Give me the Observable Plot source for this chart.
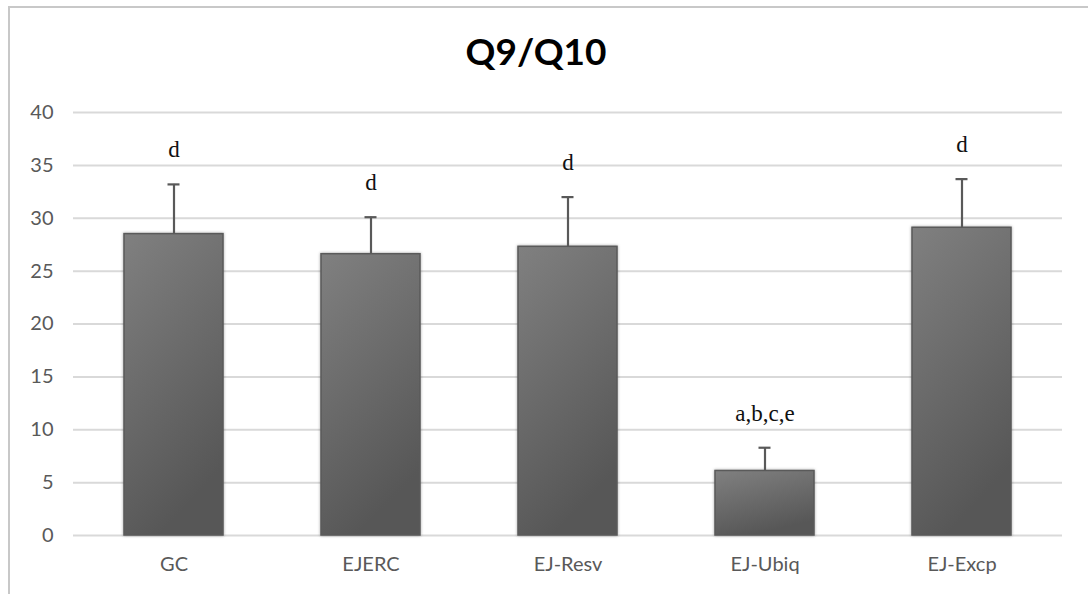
<!DOCTYPE html>
<html>
<head>
<meta charset="utf-8">
<script src="https://cdn.jsdelivr.net/npm/d3@7"></script>
<script src="https://cdn.jsdelivr.net/npm/@observablehq/plot@0.6"></script>
<style>
  html, body { margin: 0; padding: 0; background: #fff; overflow: hidden; }
  #wrap { position: relative; width: 1088px; height: 594px; overflow: hidden; }
  #frame { position: absolute; left: 8px; top: 6px; width: 1200px; height: 700px; border: 2px solid #c8c8c8; box-sizing: border-box; }
  #title { position: absolute; left: 0; width: 1072px; top: 28px; text-align: center; font: bold 37px Lato, "Open Sans", sans-serif; color: #000; }
  #chart { position: absolute; left: 0; top: 0; }
  #chart g[aria-label="bar"] rect { filter: drop-shadow(0 0 1.5px rgba(0,0,0,0.35)); }
  #chart g[aria-label="x-axis tick label"], #chart g[aria-label="y-axis tick label"] { font-size: 20px; fill: #595959; }
</style>
</head>
<body>
<div id="wrap">
  <div id="frame"></div>
  <div id="chart"></div>
  <div id="title">Q9/Q10</div>
</div>
<script>
const categories = ["GC", "EJERC", "EJ-Resv", "EJ-Ubiq", "EJ-Excp"];
const means = [28.5, 26.6, 27.3, 6.1, 29.1];
const sds = [4.7, 3.5, 4.7, 2.2, 4.6];
const letters = ["d", "d", "d", "a,b,c,e", "d"];
const yTicks = [0, 5, 10, 15, 20, 25, 30, 35, 40];

const data = categories.map((c, i) => ({cat: c, mean: means[i], top: means[i] + sds[i], letter: letters[i]}));

const chart = Plot.plot({
  width: 1088,
  height: 594,
  marginLeft: 73,
  marginRight: 26,
  marginTop: 112,
  marginBottom: 59,
  style: {background: "transparent", fontFamily: "Lato, 'Open Sans', sans-serif", color: "#595959", overflow: "visible"},
  x: {domain: categories, paddingInner: 0.5, paddingOuter: 0.25, label: null},
  y: {domain: [0, 40], label: null},
  marks: [
    Plot.gridY(yTicks, {stroke: "#d9d9d9", strokeOpacity: 1, strokeWidth: 2}),
    Plot.axisY(yTicks, {tickSize: 0, tickPadding: 20, fontSize: 20, fill: "#595959", label: null}),
    Plot.axisX({tickSize: 0, tickPadding: 21, fontSize: 20, fill: "#595959", label: null}),
    Plot.barY(data, {x: "cat", y: "mean", fill: "url(#barGrad)", stroke: "#5a5a5a", strokeWidth: 1.5}),
    Plot.ruleX(data, {x: "cat", y1: "mean", y2: "top", stroke: "#595959", strokeWidth: 2.2}),
    Plot.tickY(data, {x: "cat", y: "top", stroke: "#595959", strokeWidth: 2.2, insetLeft: 43.5, insetRight: 43.5}),
    Plot.text(data, {x: "cat", y: "top", text: "letter", dy: -27, lineAnchor: "bottom", fontFamily: "'Liberation Serif', 'DejaVu Serif', serif", fontSize: 23, fill: "#111"})
  ]
});

d3.select(chart).insert("defs", ":first-child").html(
  '<linearGradient id="barGrad" x1="0" y1="0" x2="0.35" y2="1">' +
  '<stop offset="0" stop-color="#808080"/>' +
  '<stop offset="1" stop-color="#575757"/>' +
  '</linearGradient>'
);

document.getElementById("chart").appendChild(chart);
</script>
</body>
</html>
